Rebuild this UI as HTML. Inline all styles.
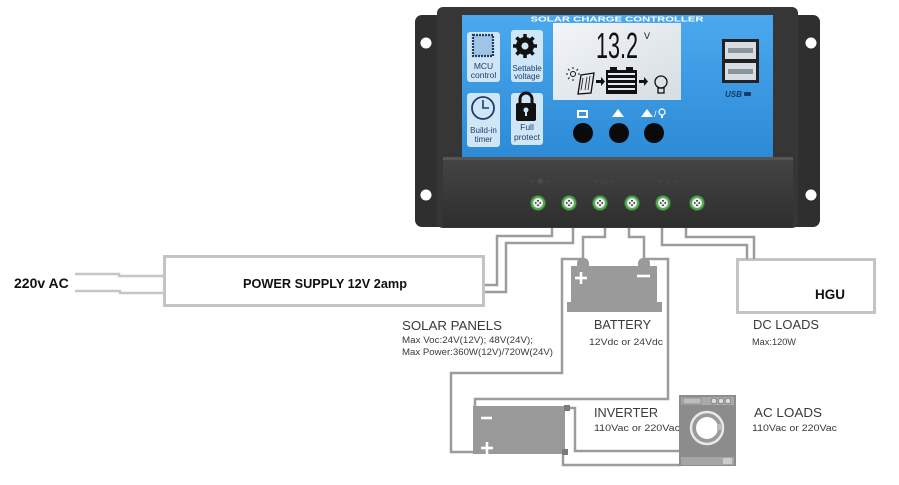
<!DOCTYPE html>
<html><head><meta charset="utf-8"><style>
html,body{margin:0;padding:0;background:#fff;}
svg{display:block;}
</style></head><body>
<svg width="899" height="485" viewBox="0 0 899 485" xmlns="http://www.w3.org/2000/svg" font-family="Liberation Sans, sans-serif">
<defs>
<linearGradient id="blue" x1="0" y1="0" x2="0" y2="1"><stop offset="0" stop-color="#4aa9ee"/><stop offset="1" stop-color="#2d8ad6"/></linearGradient>
<linearGradient id="lcd" x1="0" y1="0" x2="1" y2="1"><stop offset="0" stop-color="#f2f5f8"/><stop offset="1" stop-color="#d6dde3"/></linearGradient>
<linearGradient id="blk" x1="0" y1="0" x2="0" y2="1"><stop offset="0" stop-color="#454545"/><stop offset="1" stop-color="#2e2e2e"/></linearGradient>
</defs>

<!-- AC input wires -->
<g stroke="#c6c6c6" stroke-width="2.5" fill="none">
<polyline points="75,274 119,274 119,276 163,276"/>
<polyline points="75,291 120,291 120,293 163,293"/>
</g>
<text x="14" y="288" font-size="14" font-weight="bold" fill="#111">220v AC</text>

<!-- Power supply box -->
<rect x="164.5" y="256.5" width="319" height="49" fill="#fff" stroke="#c4c4c4" stroke-width="3"/>
<text x="243" y="288" font-size="13" font-weight="bold" fill="#111" textLength="164" lengthAdjust="spacingAndGlyphs">POWER SUPPLY 12V 2amp</text>

<!-- HGU box -->
<rect x="737.5" y="259.5" width="137" height="53" fill="#fff" stroke="#c4c4c4" stroke-width="3"/>
<text x="815" y="299" font-size="14" font-weight="bold" fill="#111" textLength="30" lengthAdjust="spacingAndGlyphs">HGU</text>

<!-- wires -->
<g stroke="#9c9c9c" stroke-width="2.5" fill="none" stroke-linejoin="miter">
<polyline points="485,285 497,285 497,236 552,236 552,226"/>
<polyline points="485,292 506,292 506,243 573,243 573,226"/>
<polyline points="605,226 605,237 583,237 583,260"/>
<polyline points="629,226 629,237 644,237 644,260"/>
<polyline points="583,259 562,259 562,373 451,373 451,452 474,452"/>
<polyline points="644,259 668,259 668,399 475,399 475,407"/>
<polyline points="662,226 662,245 747,245 747,259"/>
<polyline points="686,226 686,237 754,237 754,259"/>
<polyline points="565,408 575,408 575,451 680,451"/>
<polyline points="563,454 563,465 680,465"/>
</g>

<!-- Battery icon -->
<g fill="#9a9a9a">
<rect x="577" y="258" width="12" height="12" rx="5"/>
<rect x="638" y="258" width="12" height="12" rx="5"/>
<rect x="571" y="266" width="86" height="40"/>
<rect x="567" y="302" width="95" height="10"/>
</g>
<g stroke="#fff" stroke-width="2.6">
<line x1="575" y1="278" x2="587" y2="278"/><line x1="581" y1="272" x2="581" y2="284"/>
<line x1="637" y1="276" x2="650" y2="276"/>
</g>

<!-- Inverter -->
<rect x="473" y="406" width="92" height="48" fill="#999"/>
<rect x="564" y="405" width="6" height="6" fill="#7a7a7a"/>
<rect x="562" y="449" width="6" height="6" fill="#7a7a7a"/>
<g stroke="#fff" stroke-width="2.6">
<line x1="481" y1="418" x2="492" y2="418"/>
<line x1="481" y1="448" x2="493" y2="448"/><line x1="487" y1="442" x2="487" y2="454"/>
</g>

<!-- Washing machine -->
<g>
<rect x="679" y="395" width="57" height="71" fill="#8c8c8c"/>
<rect x="681" y="397" width="53" height="8" fill="#a9a9a9"/>
<rect x="683" y="398" width="18" height="6" fill="#bdbdbd" stroke="#777" stroke-width="0.6"/>
<circle cx="714" cy="401" r="2.8" fill="#ddd" stroke="#666" stroke-width="0.6"/>
<circle cx="721" cy="401" r="2.8" fill="#ddd" stroke="#666" stroke-width="0.6"/>
<circle cx="728" cy="401" r="2.8" fill="#ddd" stroke="#666" stroke-width="0.6"/>
<circle cx="707" cy="428" r="16" fill="#9a9a9a" stroke="#e8e8e8" stroke-width="2.5"/>
<circle cx="707" cy="428" r="11" fill="#fff"/>
<rect x="717" y="424" width="5" height="6" fill="#bbb"/>
<rect x="681" y="457" width="53" height="8" fill="#a5a5a5"/>
<rect x="723" y="458" width="9" height="6" fill="#ccc"/>
</g>

<!-- Labels -->
<g fill="#3a3a3a">
<text x="402" y="330" font-size="12.5" textLength="100" lengthAdjust="spacingAndGlyphs">SOLAR  PANELS</text>
<text x="402" y="343" font-size="9" textLength="131" lengthAdjust="spacingAndGlyphs">Max  Voc:24V(12V); 48V(24V);</text>
<text x="402" y="355" font-size="9" textLength="151" lengthAdjust="spacingAndGlyphs">Max  Power:360W(12V)/720W(24V)</text>
<text x="594" y="329" font-size="12.5" textLength="57" lengthAdjust="spacingAndGlyphs">BATTERY</text>
<text x="589" y="345" font-size="9" textLength="74" lengthAdjust="spacingAndGlyphs">12Vdc  or  24Vdc</text>
<text x="753" y="329" font-size="12.5" textLength="66" lengthAdjust="spacingAndGlyphs">DC  LOADS</text>
<text x="752" y="345" font-size="9" textLength="44" lengthAdjust="spacingAndGlyphs">Max:120W</text>
<text x="594" y="417" font-size="12.5" textLength="64" lengthAdjust="spacingAndGlyphs">INVERTER</text>
<text x="594" y="431" font-size="9" textLength="86" lengthAdjust="spacingAndGlyphs">110Vac  or  220Vac</text>
<text x="754" y="417" font-size="12.5" textLength="68" lengthAdjust="spacingAndGlyphs">AC  LOADS</text>
<text x="752" y="431" font-size="9" textLength="85" lengthAdjust="spacingAndGlyphs">110Vac  or  220Vac</text>
</g>
<!-- washer covers end of inverter text slightly -->
<rect x="679" y="420" width="3" height="14" fill="#8c8c8c"/>

<!-- Controller -->
<rect x="415" y="15" width="405" height="212" rx="7" fill="#2f2f2f"/>
<rect x="437" y="7" width="361" height="221" rx="6" fill="#363636"/>
<circle cx="426" cy="43" r="5.5" fill="#fff"/>
<circle cx="426" cy="195" r="5.5" fill="#fff"/>
<circle cx="811" cy="43" r="5.5" fill="#fff"/>
<circle cx="811" cy="195" r="5.5" fill="#fff"/>
<rect x="462" y="15" width="311" height="142" fill="url(#blue)"/>
<rect x="443" y="157" width="350" height="70" rx="3" fill="url(#blk)"/>
<rect x="443" y="157" width="350" height="3" fill="#555"/>
<text x="617" y="21.5" font-size="7.5" font-weight="bold" fill="#fff" text-anchor="middle" textLength="173" lengthAdjust="spacingAndGlyphs">SOLAR CHARGE CONTROLLER</text>

<!-- LCD -->
<rect x="553" y="23" width="128" height="77" fill="url(#lcd)"/>
<text x="596" y="58" font-size="36" fill="#111" textLength="42" lengthAdjust="spacingAndGlyphs">13.2</text>
<text x="644" y="39" font-size="9" fill="#111">V</text>
<!-- LCD icons -->
<g stroke="#111" fill="none" stroke-width="1">
<circle cx="573" cy="74" r="2.5"/>
<path d="M573 69v-2M573 79v2M568 74h-2M578 74h2M569.5 70.5l-1.5-1.5M576.5 70.5l1.5-1.5M569.5 77.5l-1.5 1.5"/>
<path d="M581 75 L594 73 L591 93 L578 94 Z" stroke-width="1.3"/>
<path d="M583 78 L581 90 M587 77 L585 90 M590 76 L588 90" stroke-width="0.8"/>
<circle cx="661" cy="82" r="6" stroke-width="1.3"/>
<rect x="658" y="88" width="6" height="5" stroke-width="1.3"/>
</g>
<g fill="#111">
<path d="M596 80h5v-3l4 4.5-4 4.5v-3h-5z"/>
<path d="M639 80h5v-3l4 4.5-4 4.5v-3h-5z"/>
<rect x="610" y="67" width="7" height="3"/><rect x="626" y="67" width="7" height="3"/>
<rect x="606" y="70" width="31" height="24"/>
</g>
<g fill="#e6ebef">
<rect x="608" y="73" width="27" height="2"/><rect x="608" y="78" width="27" height="2"/><rect x="608" y="83" width="27" height="2"/><rect x="608" y="88" width="27" height="2"/>
</g>

<!-- icon boxes -->
<g fill="#cfe6f6">
<rect x="467" y="32" width="33" height="50" rx="3"/>
<rect x="511" y="30" width="32" height="52" rx="3"/>
<rect x="467" y="93" width="33" height="54" rx="3"/>
<rect x="511" y="93" width="32" height="52" rx="3"/>
</g>
<rect x="473" y="35" width="20" height="21" fill="#9fc4e4" stroke="#1d3d6e" stroke-width="2.2" stroke-dasharray="2 1"/>
<g fill="#111">
<circle cx="525" cy="46" r="9"/>
</g>
<g stroke="#111" stroke-width="3.5">
<line x1="525" y1="34" x2="525" y2="58"/><line x1="513" y1="46" x2="537" y2="46"/>
<line x1="516.5" y1="37.5" x2="533.5" y2="54.5"/><line x1="533.5" y1="37.5" x2="516.5" y2="54.5"/>
</g>
<circle cx="525" cy="46" r="3.5" fill="#cfe6f6"/>
<circle cx="483" cy="108" r="11" fill="none" stroke="#1d3d6e" stroke-width="1.8"/>
<path d="M483 100v8h6" fill="none" stroke="#1d3d6e" stroke-width="1.6"/>
<path d="M520 104v-5a6 6 0 0 1 12 0v5" fill="none" stroke="#111" stroke-width="3"/>
<rect x="516" y="103" width="20" height="18" rx="2" fill="#111"/>
<circle cx="526" cy="110" r="2.5" fill="#cfe6f6"/><rect x="525" y="111" width="2" height="5" fill="#cfe6f6"/>
<g fill="#1d3d6e" font-size="8.5" text-anchor="middle">
<text x="483.5" y="69">MCU</text>
<text x="483.5" y="78">control</text>
<text x="527" y="71" font-size="8">Settable</text>
<text x="527" y="79" font-size="8">voltage</text>
<text x="483.5" y="133" font-size="8">Build-in</text>
<text x="483.5" y="142" font-size="8">timer</text>
<text x="527" y="130">Full</text>
<text x="527" y="140">protect</text>
</g>

<!-- buttons -->
<rect x="577" y="110" width="11" height="8" fill="#fff"/>
<rect x="579" y="112" width="7" height="4" fill="#3b95dc"/>
<path d="M618 109 L624 117 L612 117 Z" fill="#fff"/>
<path d="M647 109 L653 117 L641 117 Z" fill="#fff"/>
<text x="654" y="117" font-size="9" fill="#fff">/</text>
<circle cx="662" cy="112" r="3" fill="none" stroke="#fff" stroke-width="1.2"/>
<rect x="661" y="115" width="2" height="3" fill="#fff"/>
<circle cx="583" cy="133" r="10" fill="#0a0a0a"/>
<circle cx="619" cy="133" r="10" fill="#0a0a0a"/>
<circle cx="654" cy="133" r="10" fill="#0a0a0a"/>

<!-- USB -->
<rect x="722" y="39" width="37" height="44" fill="#222"/>
<rect x="725" y="42" width="31" height="17" fill="#d7dde2"/>
<rect x="725" y="63" width="31" height="17" fill="#d7dde2"/>
<rect x="728" y="48" width="25" height="5" fill="#8b959c"/>
<rect x="728" y="69" width="25" height="5" fill="#8b959c"/>
<text x="725" y="97" font-size="8" font-weight="bold" font-style="italic" fill="#173a66">USB</text>
<rect x="744" y="92" width="7" height="4" rx="1" fill="#173a66"/>

<!-- terminal faint symbols -->
<g fill="#4e4e4e" font-size="8">
<text x="530" y="184">+ ✱ −</text>
<text x="593" y="184">+ ▭ −</text>
<text x="658" y="184">+ ♀ −</text>
</g>

<!-- screws -->
<g>
<g transform="translate(538,203)"><circle r="8" fill="#2d6e2d"/><circle r="7" fill="#5aa65a"/><circle r="5" fill="#e9efe9"/><path d="M-3 0h6M0 -3v6" stroke="#222" stroke-width="1.6"/><rect x="-1.5" y="-1.5" width="3" height="3" fill="#e9efe9"/></g>
<g transform="translate(569,203)"><circle r="8" fill="#2d6e2d"/><circle r="7" fill="#5aa65a"/><circle r="5" fill="#e9efe9"/><path d="M-3 0h6M0 -3v6" stroke="#222" stroke-width="1.6"/><rect x="-1.5" y="-1.5" width="3" height="3" fill="#e9efe9"/></g>
<g transform="translate(600,203)"><circle r="8" fill="#2d6e2d"/><circle r="7" fill="#5aa65a"/><circle r="5" fill="#e9efe9"/><path d="M-3 0h6M0 -3v6" stroke="#222" stroke-width="1.6"/><rect x="-1.5" y="-1.5" width="3" height="3" fill="#e9efe9"/></g>
<g transform="translate(632,203)"><circle r="8" fill="#2d6e2d"/><circle r="7" fill="#5aa65a"/><circle r="5" fill="#e9efe9"/><path d="M-3 0h6M0 -3v6" stroke="#222" stroke-width="1.6"/><rect x="-1.5" y="-1.5" width="3" height="3" fill="#e9efe9"/></g>
<g transform="translate(663,203)"><circle r="8" fill="#2d6e2d"/><circle r="7" fill="#5aa65a"/><circle r="5" fill="#e9efe9"/><path d="M-3 0h6M0 -3v6" stroke="#222" stroke-width="1.6"/><rect x="-1.5" y="-1.5" width="3" height="3" fill="#e9efe9"/></g>
<g transform="translate(697,203)"><circle r="8" fill="#2d6e2d"/><circle r="7" fill="#5aa65a"/><circle r="5" fill="#e9efe9"/><path d="M-3 0h6M0 -3v6" stroke="#222" stroke-width="1.6"/><rect x="-1.5" y="-1.5" width="3" height="3" fill="#e9efe9"/></g>
</g>
</svg>
</body></html>
